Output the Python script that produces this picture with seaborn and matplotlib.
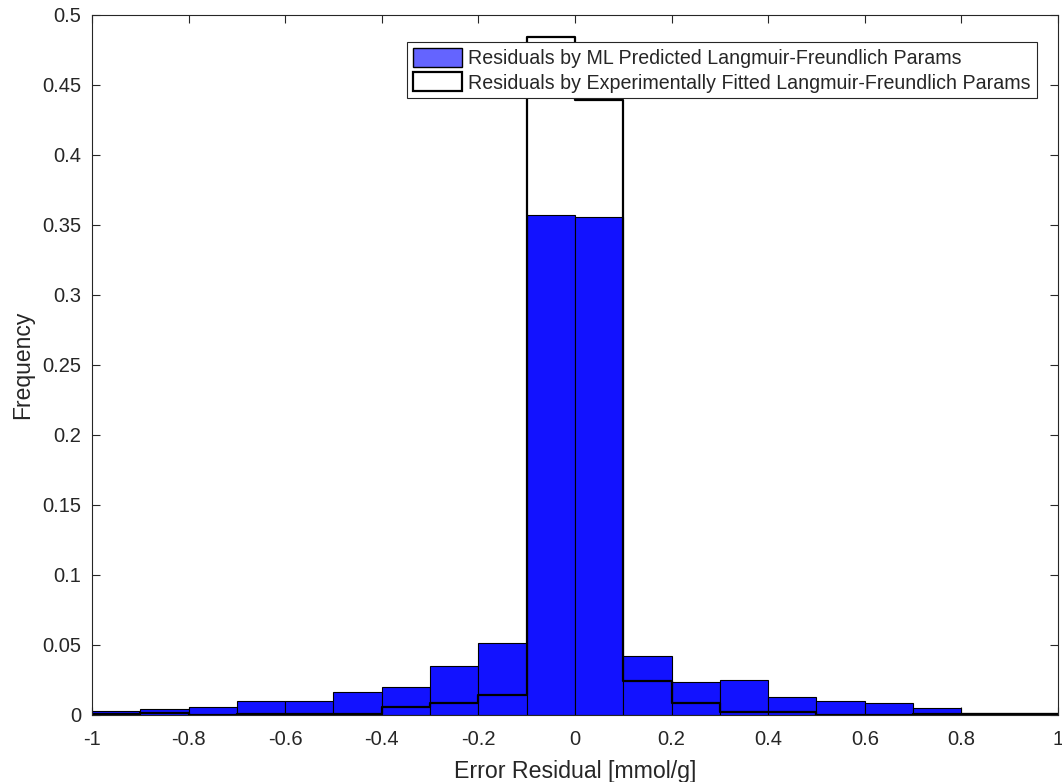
import numpy as np
import pandas as pd
import matplotlib
matplotlib.use("Agg")
import matplotlib.pyplot as plt
from matplotlib.patches import Patch
import seaborn as sns

# Histogram bin edges (width 0.1 over [-1, 1])
bin_edges = [-1.0, -0.9, -0.8, -0.7, -0.6, -0.5, -0.4, -0.3, -0.2, -0.1, 0.0,
             0.1, 0.2, 0.3, 0.4, 0.5, 0.6, 0.7, 0.8, 0.9, 1.0]

# Relative frequency per bin
ml_predicted = [0.0031, 0.0045, 0.0060, 0.0100, 0.0100, 0.0162, 0.0200, 0.0350,
                0.0517, 0.3570, 0.3560, 0.0420, 0.0238, 0.0248, 0.0126, 0.0100,
                0.0086, 0.0052, 0.0014, 0.0014]
exp_fitted = [0.0008, 0.0012, 0.0002, 0.0010, 0.0010, 0.0010, 0.0060, 0.0088,
              0.0143, 0.4840, 0.4390, 0.0240, 0.0088, 0.0020, 0.0019, 0.0002,
              0.0002, 0.0008, 0.0007, 0.0007]

series_labels = ["Residuals by ML Predicted Langmuir-Freundlich Params",
                 "Residuals by Experimentally Fitted Langmuir-Freundlich Params"]

x_ticks = [-1, -0.8, -0.6, -0.4, -0.2, 0, 0.2, 0.4, 0.6, 0.8, 1]
x_ticklabels = ["-1", "-0.8", "-0.6", "-0.4", "-0.2", "0", "0.2", "0.4", "0.6", "0.8", "1"]
y_ticks = [0, 0.05, 0.1, 0.15, 0.2, 0.25, 0.3, 0.35, 0.4, 0.45, 0.5]
y_ticklabels = ["0", "0.05", "0.1", "0.15", "0.2", "0.25", "0.3", "0.35", "0.4", "0.45", "0.5"]

sns.set_theme(style="white")
plt.rcParams["font.family"] = ["Liberation Sans", "DejaVu Sans"]

centers = [(a + b) / 2 for a, b in zip(bin_edges[:-1], bin_edges[1:])]
df = pd.DataFrame({"center": centers, "ml": ml_predicted, "exp": exp_fitted})

fig = plt.figure(figsize=(10.62, 7.82), dpi=100)
ax = fig.add_axes([0.0866, 0.0857, 0.9096, 0.8952])

text_col = "#262626"

sns.histplot(data=df, x="center", weights="ml", bins=list(bin_edges), stat="count",
             element="bars", fill=True, color="#1212ff", alpha=1.0,
             edgecolor="black", linewidth=0.8, ax=ax)
sns.histplot(data=df, x="center", weights="exp", bins=list(bin_edges), stat="count",
             element="step", fill=False, color="black", linewidth=1.6, ax=ax)

ax.set_xlim(-1, 1)
ax.set_ylim(0, 0.5)
ax.set_xticks(x_ticks)
ax.set_xticklabels(x_ticklabels)
ax.set_yticks(y_ticks)
ax.set_yticklabels(y_ticklabels)
ax.tick_params(axis="both", direction="in", length=6, width=0.8, colors=text_col,
               labelsize=14.5, top=True, right=True, bottom=True, left=True,
               labelcolor=text_col)
ax.tick_params(axis="x", pad=11)
ax.tick_params(axis="y", pad=7.5)
for sp in ax.spines.values():
    sp.set_visible(True)
    sp.set_color(text_col)
    sp.set_linewidth(0.8)

ax.set_xlabel("Error Residual [mmol/g]", fontsize=16.7, color=text_col, labelpad=8)
ax.set_ylabel("Frequency", fontsize=16.5, color=text_col, labelpad=6)

handles = [Patch(facecolor="#6464ff", edgecolor="black", linewidth=1.0),
           Patch(facecolor="white", edgecolor="black", linewidth=1.6)]
leg = ax.legend(handles, series_labels, loc="upper right",
                bbox_to_anchor=(0.978, 0.961), borderaxespad=0, fontsize=14.1,
                frameon=True, fancybox=False, framealpha=1, edgecolor=text_col,
                handlelength=2.55, handleheight=1.1, handletextpad=0.3,
                borderpad=0.3, labelspacing=0.22)
leg.get_frame().set_linewidth(0.8)
leg.set_zorder(10)

fig.savefig("out.png", dpi=100)
